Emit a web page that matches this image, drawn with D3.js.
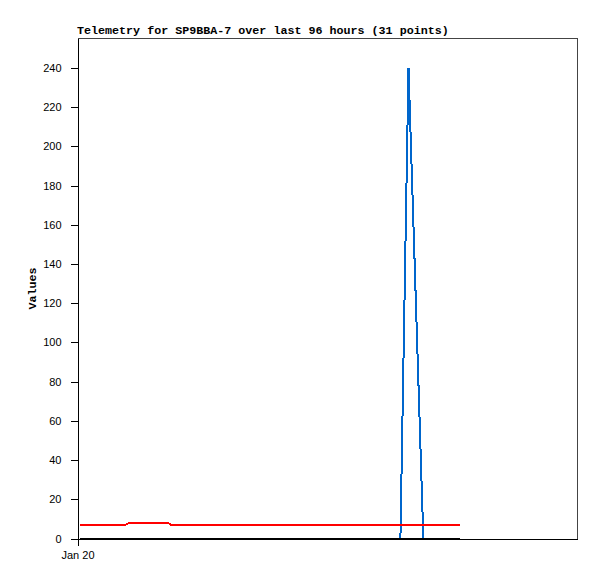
<!DOCTYPE html>
<html>
<head>
<meta charset="utf-8">
<script src="https://cdn.jsdelivr.net/npm/d3@7"></script>
<style>
  body { margin: 0; background: #fff; }
  svg { display: block; }
  .tick text { font-family: "Liberation Sans", Arial, sans-serif; font-size: 11px; fill: #000; }
  .title, .ylabel { font-family: "Liberation Mono", "DejaVu Sans Mono", monospace; font-weight: bold; font-size: 11.7px; }
</style>
</head>
<body>
<div id="chart"></div>
<script>
// Width and height
var chart_width   = 597;
var chart_height  = 579;
var left = 77.5, right = 577.5, top_y = 38.5, bottom = 538.5;

// Data: hours after Jan 20 00:00, one value per series
var hours  = [0.5, 3.4, 6.3, 9.2, 10.0, 12.5, 15.1, 17.3, 18.0, 20.9,
              23.8, 26.7, 29.6, 32.5, 35.4, 38.3, 41.2, 44.1, 47.0, 49.9,
              52.8, 55.7, 58.6, 62.0, 63.55, 66.4, 68.0, 69.8, 71.6, 72.5, 73.35];
var red    = [7, 7, 7, 7, 8, 8, 8, 8, 7, 7,
              7, 7, 7, 7, 7, 7, 7, 7, 7, 7,
              7, 7, 7, 7, 7, 7, 7, 7, 7, 7, 7];
var blue   = [0, 0, 0, 0, 0, 0, 0, 0, 0, 0,
              0, 0, 0, 0, 0, 0, 0, 0, 0, 0,
              0, 0, 0, 0, 240, 0, 0, 0, 0, 0, 0];
var black  = [0, 0, 0, 0, 0, 0, 0, 0, 0, 0,
              0, 0, 0, 0, 0, 0, 0, 0, 0, 0,
              0, 0, 0, 0, 0, 0, 0, 0, 0, 0, 0];
var y_ticks = [0, 20, 40, 60, 80, 100, 120, 140, 160, 180, 200, 220, 240];

var start = new Date(2024, 0, 20, 0, 0);
var times = hours.map((h) => new Date(start.getTime() + h * 3600000));

var x = d3.scaleTime()
  .domain([start, new Date(start.getTime() + 96 * 3600000)])
  .range([left, right]);
var y = d3.scaleLinear()
  .domain([0, 255])
  .range([bottom, top_y]);

var svg = d3.select("#chart")
  .append("svg")
  .attr("width", chart_width)
  .attr("height", chart_height);

// frame (top and right)
svg.append("path")
  .attr("d", "M" + left + "," + top_y + "H" + right + "V" + bottom)
  .attr("fill", "none")
  .attr("stroke", "#444")
  .attr("shape-rendering", "crispEdges");

var line = d3.line()
  .x((d, i) => x(times[i]))
  .y((d) => y(d));

[[blue, "#0066cc"], [red, "#ff0000"], [black, "#000000"]].forEach((s) => {
  svg.append("path")
    .datum(s[0])
    .attr("d", line)
    .attr("fill", "none")
    .attr("stroke", s[1])
    .attr("stroke-width", 2)
    .attr("shape-rendering", "crispEdges");
});

// axes
var yAxis = svg.append("g")
  .attr("transform", "translate(" + left + ",0)")
  .call(d3.axisLeft(y).tickValues(y_ticks).tickSize(7).tickPadding(9).tickSizeOuter(0));
var xAxis = svg.append("g")
  .attr("transform", "translate(0," + bottom + ")")
  .call(d3.axisBottom(x).tickValues([start]).tickFormat(d3.timeFormat("%b %d")).tickSize(7).tickPadding(6).tickSizeOuter(0));

svg.selectAll(".domain, .tick line")
  .attr("stroke", "#000")
  .attr("shape-rendering", "crispEdges");

svg.append("text")
  .attr("class", "title")
  .attr("x", left - 0.5)
  .attr("y", 34)
  .text("Telemetry for SP9BBA-7 over last 96 hours (31 points)");

svg.append("text")
  .attr("class", "ylabel")
  .attr("transform", "translate(36," + ((top_y + bottom) / 2) + ") rotate(-90)")
  .attr("text-anchor", "middle")
  .text("Values");
</script>
</body>
</html>
